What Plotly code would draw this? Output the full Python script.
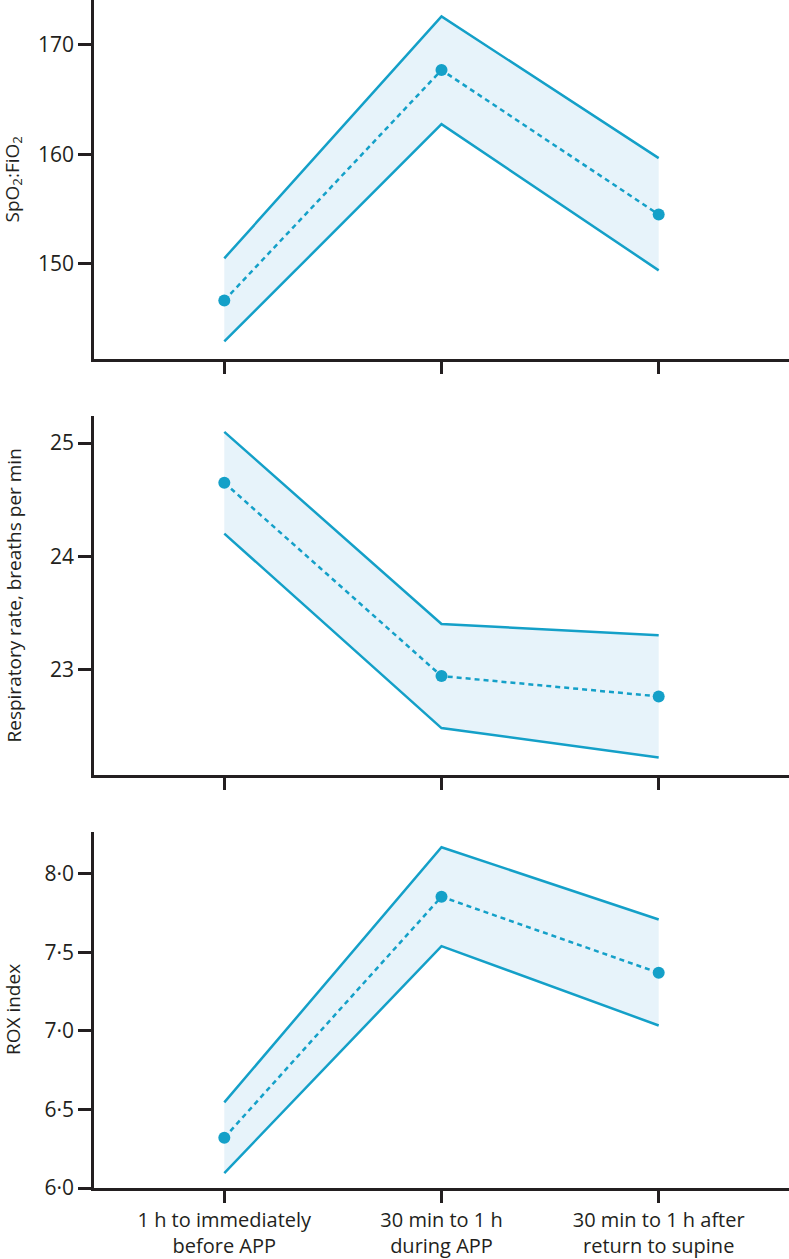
import plotly.graph_objects as go
from plotly.subplots import make_subplots

categories = ["1 h to immediately<br>before APP", "30 min to 1 h<br>during APP", "30 min to 1 h after<br>return to supine"]
x_pos = [0, 1, 2]

spo2_mean = [146.65, 167.7, 154.5]
spo2_upper = [150.5, 172.6, 159.65]
spo2_lower = [142.9, 162.75, 149.4]

rr_mean = [24.65, 22.94, 22.76]
rr_upper = [25.10, 23.40, 23.30]
rr_lower = [24.20, 22.48, 22.22]

rox_mean = [6.32, 7.855, 7.37]
rox_upper = [6.545, 8.17, 7.71]
rox_lower = [6.095, 7.54, 7.035]

y_titles = ["SpO<sub>2</sub>:FiO<sub>2</sub>", "Respiratory rate, breaths per min", "ROX index"]
y_ranges = [[141.3, 174.1], [22.065, 25.24], [6.0, 8.267]]
y_tickvals = [[150, 160, 170], [23, 24, 25], [6.0, 6.5, 7.0, 7.5, 8.0]]
y_ticktext = [["150", "160", "170"], ["23", "24", "25"], ["6·0", "6·5", "7·0", "7·5", "8·0"]]

LINE = "#14a0c8"
FILL = "#e7f3fa"
AXIS = "#231f20"
FONT = "Open Sans"

H, W = 1259, 789
ML = 94
plot_bottom_px = 1188
panels_px = [(0, 359), (416, 775), (832, 1188)]
domains = [[1 - b / plot_bottom_px, 1 - t / plot_bottom_px] for t, b in panels_px]

fig = make_subplots(rows=3, cols=1, shared_xaxes=False)

series = [(spo2_mean, spo2_upper, spo2_lower), (rr_mean, rr_upper, rr_lower), (rox_mean, rox_upper, rox_lower)]
for i, (m, u, l) in enumerate(series, start=1):
    fig.add_trace(go.Scatter(x=x_pos, y=u, mode="lines", line=dict(color=LINE, width=2.5),
                             showlegend=False, hoverinfo="skip", cliponaxis=False), row=i, col=1)
    fig.add_trace(go.Scatter(x=x_pos, y=l, mode="lines", line=dict(color=LINE, width=2.5),
                             fill="tonexty", fillcolor=FILL, showlegend=False, hoverinfo="skip"), row=i, col=1)
    fig.add_trace(go.Scatter(x=x_pos, y=m, mode="lines+markers",
                             line=dict(color=LINE, width=2.5, dash="5px,4px"),
                             marker=dict(color=LINE, size=12), showlegend=False), row=i, col=1)

for i in range(3):
    r = i + 1
    fig.update_yaxes(row=r, col=1, domain=domains[i], range=y_ranges[i],
                     tickvals=y_tickvals[i], ticktext=y_ticktext[i],
                     showgrid=False, zeroline=False, showline=True, linecolor=AXIS, linewidth=2.5,
                     ticks="outside", ticklen=13, tickwidth=2.5, tickcolor=AXIS,
                     tickfont=dict(family=FONT, size=21, color=AXIS))
    fig.update_xaxes(row=r, col=1, range=[-0.6, 2.6], tickvals=x_pos,
                     ticktext=categories if r == 3 else ["", "", ""],
                     showticklabels=(r == 3),
                     showgrid=False, zeroline=False, showline=True, linecolor=AXIS, linewidth=2.5,
                     ticks="outside", ticklen=12, tickwidth=2.5, tickcolor=AXIS,
                     tickfont=dict(family=FONT, size=20, color=AXIS))
    t, b = panels_px[i]
    yc = 1 - ((t + b) / 2) / plot_bottom_px
    fig.add_annotation(text=y_titles[i], xref="paper", yref="paper",
                       x=(13 - ML) / (W - ML), y=yc, textangle=-90, showarrow=False,
                       xanchor="center", yanchor="middle",
                       font=dict(family=FONT, size=19, color=AXIS))

fig.update_layout(width=W, height=H, margin=dict(l=ML, r=0, t=0, b=H - plot_bottom_px),
                  plot_bgcolor="white", paper_bgcolor="white",
                  font=dict(family=FONT, color=AXIS))

fig.write_html("out.html", config={"displayModeBar": False},
               post_script="document.body.style.margin='0';")
